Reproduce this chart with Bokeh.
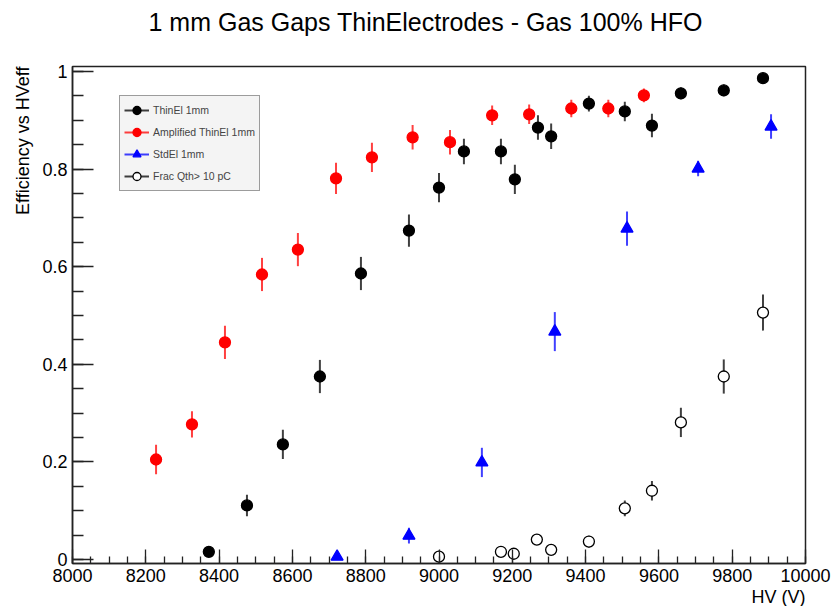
from bokeh.plotting import figure
from bokeh.models import (ColumnDataSource, Range1d, SingleIntervalTicker,
                          NumeralTickFormatter, Legend, LegendItem, Title)
from bokeh.embed import file_html
from bokeh.resources import INLINE

title_text = "1 mm Gas Gaps ThinElectrodes - Gas 100% HFO"
x_label = "HV (V)"
y_label = "Efficiency vs HVeff"

# ThinEl 1mm (black filled circles)
thin_hv = [8372, 8476, 8574, 8675, 8787, 8918, 9000, 9068, 9169, 9207, 9270, 9306,
           9409, 9507, 9581, 9660, 9777, 9884]
thin_eff = [0.016, 0.111, 0.236, 0.375, 0.586, 0.674, 0.762, 0.836, 0.836, 0.779, 0.885, 0.867,
            0.934, 0.918, 0.889, 0.955, 0.961, 0.986]
thin_err = [0.004, 0.022, 0.030, 0.034, 0.034, 0.033, 0.030, 0.026, 0.026, 0.030, 0.025, 0.026,
            0.016, 0.020, 0.024, 0.012, 0.012, 0.006]

# Amplified ThinEl 1mm (red filled circles)
amp_hv = [8228, 8326, 8416, 8517, 8615, 8719, 8817, 8928, 9030, 9145, 9246, 9361, 9462, 9559]
amp_eff = [0.205, 0.277, 0.445, 0.584, 0.635, 0.781, 0.824, 0.865, 0.855, 0.910, 0.912, 0.924,
           0.924, 0.951]
amp_err = [0.030, 0.027, 0.034, 0.034, 0.034, 0.032, 0.030, 0.025, 0.025, 0.020, 0.020, 0.018,
           0.018, 0.014]

# StdEl 1mm (blue triangles)
std_hv = [8722, 8918, 9117, 9316, 9513, 9707, 9906]
std_eff = [0.006, 0.049, 0.199, 0.467, 0.678, 0.801, 0.887]
std_err = [0.005, 0.016, 0.030, 0.040, 0.035, 0.016, 0.025]

# Frac Qth > 10 pC (open circles)
frac_hv = [9000, 9169, 9204, 9267, 9306, 9409, 9507, 9581, 9660, 9777, 9884]
frac_eff = [0.006, 0.016, 0.012, 0.041, 0.020, 0.037, 0.105, 0.141, 0.281, 0.375, 0.506]
frac_err = [0.012, 0.008, 0.008, 0.010, 0.008, 0.012, 0.016, 0.020, 0.030, 0.035, 0.037]

FONT = "Liberation Sans"

p = figure(width=832, height=606, output_backend="svg", toolbar_location=None, title=None,
           x_range=Range1d(8000, 10000), y_range=Range1d(-0.008, 1.01),
           min_border_left=72, min_border_right=27, min_border_top=66, min_border_bottom=43)
p.background_fill_color = "white"
p.border_fill_color = "white"
p.outline_line_color = "#222222"
p.outline_line_width = 1.5
p.xgrid.visible = False
p.ygrid.visible = False

# spacer between frame and main title, then the main title further out
spacer = Title(text=" ", text_font=FONT, text_font_size="25px", standoff=1)
p.add_layout(spacer, "above")
main_title = Title(text=title_text, text_font=FONT, text_font_size="25px",
                   text_font_style="normal", text_color="black",
                   align="left", offset=76, standoff=0)
p.add_layout(main_title, "above")


def make_src(hv, eff, err):
    return ColumnDataSource(dict(
        x=hv, y=eff,
        lo=[e - d for e, d in zip(eff, err)],
        hi=[e + d for e, d in zip(eff, err)],
    ))


series = [
    ("ThinEl 1mm", thin_hv, thin_eff, thin_err, "black", "circle", "black", 11),
    ("Amplified ThinEl 1mm", amp_hv, amp_eff, amp_err, "red", "circle", "red", 11),
    ("StdEl 1mm", std_hv, std_eff, std_err, "blue", "triangle", "blue", 12),
    ("Frac Qth> 10 pC", frac_hv, frac_eff, frac_err, "black", "circle", "white", 11),
]

items = []
for label, hv, eff, err, col, marker, fill, size in series:
    src = make_src(hv, eff, err)
    seg = p.segment(x0="x", y0="lo", x1="x", y1="hi", source=src,
                    line_color=col, line_width=2, line_alpha=0.75)
    sc = p.scatter(x="x", y="y", source=src, marker=marker, size=size,
                   fill_color=fill, line_color=col, line_width=1.3)
    items.append(LegendItem(label=label, renderers=[seg, sc]))

legend = Legend(items=items, location=(47, 372), margin=0,
                label_text_font=FONT, label_text_font_size="10.5px",
                glyph_width=25, glyph_height=20, label_height=20,
                label_standoff=4, spacing=2, padding=4,
                border_line_color="#444444", border_line_width=1.2,
                background_fill_color="#f4f4f4", background_fill_alpha=1.0)
p.add_layout(legend, "center")

# axes
p.xaxis.ticker = SingleIntervalTicker(interval=200, num_minor_ticks=4)
p.yaxis.ticker = SingleIntervalTicker(interval=0.2, num_minor_ticks=4)
p.yaxis.formatter = NumeralTickFormatter(format="0.[0]")
for ax in (p.xaxis, p.yaxis):
    ax.axis_line_color = "#222222"
    ax.axis_line_width = 1.5
    ax.major_tick_line_color = "#222222"
    ax.minor_tick_line_color = "#222222"
    ax.major_tick_line_width = 1.3
    ax.minor_tick_line_width = 1.3
    ax.major_tick_out = 0
    ax.minor_tick_out = 0
    ax.major_label_text_font = FONT
    ax.major_label_text_font_size = "18px"
    ax.major_label_text_color = "black"
p.xaxis.major_tick_in = 14
p.xaxis.minor_tick_in = 7
p.yaxis.major_tick_in = 21
p.yaxis.minor_tick_in = 11
p.xaxis.major_label_standoff = 5
p.yaxis.major_label_standoff = 5

# axis titles, ROOT-style (aligned to the high end of each axis)
p.add_layout(Title(text=x_label, align="right", text_font=FONT, text_font_size="18px",
                   text_font_style="normal", text_color="black", standoff=0), "below")
p.add_layout(Title(text=y_label, align="right", text_font=FONT, text_font_size="18px",
                   text_font_style="normal", text_color="black", standoff=13), "left")

open("out.html", "w").write(file_html(p, INLINE))
